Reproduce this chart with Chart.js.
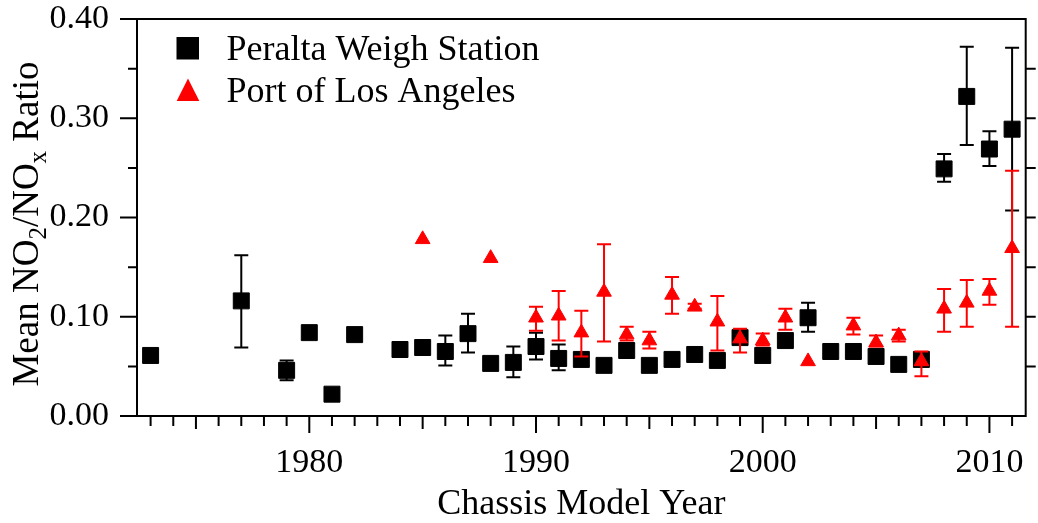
<!DOCTYPE html>
<html>
<head>
<meta charset="utf-8">
<script src="https://cdn.jsdelivr.net/npm/chart.js@4.4.0/dist/chart.umd.min.js"></script>
<style>
  html, body { margin: 0; padding: 0; background: #fff; }
  #wrap { width: 1038px; height: 523px; }
</style>
</head>
<body>
<div id="wrap"><canvas id="chart" width="1038" height="523"></canvas></div>
<script>
'use strict'

const serif = "'Liberation Serif', 'Times New Roman', serif";

// Peralta Weigh Station (black squares)
const peraltaYears = [1973, 1977, 1979, 1980, 1981, 1982, 1984, 1985, 1986, 1987, 1988, 1989, 1990, 1991, 1992, 1993, 1994,
  1995, 1996, 1997, 1998, 1999, 2000, 2001, 2002, 2003, 2004, 2005, 2006, 2007, 2008, 2009, 2010, 2011];
const peraltaMeans = [0.061, 0.116, 0.046, 0.084, 0.022, 0.082, 0.067, 0.069, 0.065, 0.083, 0.053, 0.054, 0.070, 0.058, 0.057, 0.051, 0.066,
  0.051, 0.057, 0.062, 0.056, 0.079, 0.061, 0.076, 0.099, 0.065, 0.065, 0.060, 0.052, 0.057, 0.249, 0.322, 0.269, 0.289];
const peraltaHigh = [null, 0.162, 0.056, null, null, null, null, null, 0.081, 0.103, null, 0.070, 0.084, 0.072, null, null, null,
  null, null, null, null, null, null, null, 0.114, null, null, null, null, null, 0.264, 0.372, 0.287, 0.371];
const peraltaLow = [null, 0.069, 0.036, null, null, null, null, null, 0.051, 0.064, null, 0.039, 0.057, 0.046, null, null, null,
  null, null, null, null, null, null, null, 0.085, null, null, null, null, null, 0.236, 0.273, 0.252, 0.207];

// Port of Los Angeles (red triangles)
const portYears = [1985, 1988, 1990, 1991, 1992, 1993, 1994, 1995, 1996, 1997, 1998, 1999, 2000, 2001, 2002, 2004,
  2005, 2006, 2007, 2008, 2009, 2010, 2011];
const portMeans = [0.178, 0.159, 0.099, 0.101, 0.084, 0.125, 0.082, 0.076, 0.122, 0.110, 0.095, 0.078, 0.076, 0.099, 0.055, 0.091,
  0.074, 0.081, 0.055, 0.108, 0.114, 0.126, 0.169];
const portHigh = [null, null, 0.110, 0.126, 0.106, 0.173, 0.090, 0.085, 0.140, 0.113, 0.121, 0.088, 0.083, 0.108, null, 0.099,
  0.081, 0.087, 0.065, 0.128, 0.137, 0.138, 0.247];
const portLow = [null, null, 0.086, 0.076, 0.060, 0.075, 0.076, 0.068, 0.103, 0.108, 0.066, 0.064, 0.071, 0.087, null, 0.082,
  0.070, 0.075, 0.040, 0.085, 0.090, 0.112, 0.090];

const xTickLabels = [1980, 1990, 2000, 2010];
const yTickLabels = ['0.00', '0.10', '0.20', '0.30', '0.40'];

function toPoints(xs, ys){
  return xs.map((x, i) => ({x: x, y: ys[i]}));
}

// error bars, drawn just before each dataset's markers
const errorBars = {
  id: 'errorBars',
  beforeDatasetDraw(chart, args){
    const ds = chart.data.datasets[args.index];
    if (!ds.errHigh) return;
    const ctx = chart.ctx;
    const xs = chart.scales.x;
    const ys = chart.scales.y;
    ctx.save();
    ctx.strokeStyle = ds.borderColor;
    ctx.lineWidth = 2;
    ds.data.forEach((p, i) => {
      const hi = ds.errHigh[i];
      const lo = ds.errLow[i];
      if (hi == null) return;
      const px = xs.getPixelForValue(p.x);
      const top = ys.getPixelForValue(hi);
      const bot = ys.getPixelForValue(lo);
      ctx.beginPath();
      ctx.moveTo(px, top); ctx.lineTo(px, bot);
      ctx.moveTo(px - 7, top); ctx.lineTo(px + 7, top);
      ctx.moveTo(px - 7, bot); ctx.lineTo(px + 7, bot);
      ctx.stroke();
    });
    ctx.restore();
  }
};

// box, tick marks, legend and the y title with subscripts
const decorations = {
  id: 'decorations',
  afterDraw(chart){
    const ctx = chart.ctx;
    const a = chart.chartArea;
    const xs = chart.scales.x;
    const ys = chart.scales.y;
    ctx.save();
    ctx.strokeStyle = '#000';
    ctx.lineWidth = 2;
    ctx.beginPath();
    ctx.moveTo(a.left, a.top); ctx.lineTo(a.left, a.bottom);
    ctx.moveTo(a.right, a.top); ctx.lineTo(a.right, a.bottom + 1);
    ctx.moveTo(a.left, a.top); ctx.lineTo(a.right + 1, a.top);
    ctx.moveTo(a.left, a.bottom); ctx.lineTo(a.right + 1, a.bottom);

    // y ticks
    const majors = yTickLabels.map(Number);
    majors.forEach((v, i) => {
      const py = ys.getPixelForValue(v);
      ctx.moveTo(a.left - 17, py); ctx.lineTo(a.left, py);
      if (i < majors.length - 1) {
        const mid = ys.getPixelForValue((v + majors[i + 1]) / 2);
        ctx.moveTo(a.left - 9, mid); ctx.lineTo(a.left, mid);
        ctx.moveTo(a.right, mid); ctx.lineTo(a.right + 10, mid);
      }
      if (i > 0 && i < majors.length - 1) {
        ctx.moveTo(a.right, py); ctx.lineTo(a.right + 10, py);
      }
    });

    // x ticks
    for (let yr = Math.ceil(xs.min); yr <= Math.floor(xs.max); yr++) {
      const px = xs.getPixelForValue(yr);
      let len = 10;
      if (yr % 5 === 0) len = 13;
      if (yr % 10 === 0) len = 17;
      ctx.moveTo(px, a.bottom); ctx.lineTo(px, a.bottom + len);
    }
    ctx.stroke();

    // legend
    ctx.fillStyle = '#000';
    ctx.fillRect(176.5, 37, 22.5, 22.5);
    ctx.fillStyle = '#ff0000';
    ctx.beginPath();
    ctx.moveTo(188, 78.5);
    ctx.lineTo(199.3, 101);
    ctx.lineTo(176.7, 101);
    ctx.closePath();
    ctx.fill();
    ctx.fillStyle = '#000';
    ctx.font = '36px ' + serif;
    ctx.textBaseline = 'alphabetic';
    ctx.textAlign = 'left';
    ctx.fillText('Peralta Weigh Station', 226.5, 59.5);
    ctx.fillText('Port of Los Angeles', 226.5, 102);

    // y title
    const parts = [['Mean NO', 37, 0], ['2', 25, 8], ['/NO', 37, 0], ['x', 25, 8], [' Ratio', 37, 0]];
    let total = 0;
    parts.forEach(p => {
      ctx.font = p[1] + 'px ' + serif;
      total += ctx.measureText(p[0]).width;
    });
    ctx.translate(38, 224);
    ctx.rotate(-Math.PI / 2);
    let cx = -total / 2;
    parts.forEach(p => {
      ctx.font = p[1] + 'px ' + serif;
      ctx.fillText(p[0], cx, p[2]);
      cx += ctx.measureText(p[0]).width;
    });
    ctx.restore();
  }
};

const ctx = document.getElementById('chart').getContext('2d');

const myChart = new Chart(ctx, {
  type: 'scatter',
  data: {
    datasets: [{
      label: 'Peralta Weigh Station',
      data: toPoints(peraltaYears, peraltaMeans),
      errHigh: peraltaHigh,
      errLow: peraltaLow,
      pointStyle: 'rect',
      pointRadius: 11.3,
      borderWidth: 1,
      backgroundColor: '#000',
      borderColor: '#000',
      order: 1
    },
    {
      label: 'Port of Los Angeles',
      data: toPoints(portYears, portMeans),
      errHigh: portHigh,
      errLow: portLow,
      pointStyle: 'triangle',
      pointRadius: 8.5,
      borderWidth: 1,
      backgroundColor: '#ff0000',
      borderColor: '#ff0000',
      order: 0
    }]
  },
  options: {
    responsive: false,
    animation: false,
    events: [],
    layout: { padding: { left: 0, top: 19, right: 10, bottom: 0 } },
    plugins: {
      legend: { display: false },
      tooltip: { enabled: false }
    },
    scales: {
      x: {
        type: 'linear',
        min: 1972.4,
        max: 2011.6,
        border: { display: false },
        grid: { display: false, drawTicks: false },
        afterBuildTicks(scale){
          scale.ticks = xTickLabels.map(v => ({value: v}));
        },
        afterFit(scale){
          scale.height = 107;
          scale.paddingLeft = 0;
          scale.paddingRight = 0;
        },
        ticks: {
          color: '#000',
          padding: 30,
          maxRotation: 0,
          font: { family: serif, size: 34, lineHeight: 1 },
          callback: v => String(v)
        },
        title: {
          display: true,
          text: 'Chassis Model Year',
          color: '#000',
          padding: { top: 0, bottom: 0 },
          font: { family: serif, size: 36, lineHeight: 1 }
        }
      },
      y: {
        min: 0,
        max: 0.4,
        border: { display: false },
        grid: { display: false, drawTicks: false },
        afterBuildTicks(scale){
          scale.ticks = yTickLabels.map(v => ({value: Number(v)}));
        },
        afterFit(scale){
          scale.width = 137;
          scale.paddingTop = 0;
          scale.paddingBottom = 0;
        },
        ticks: {
          color: '#000',
          padding: 28,
          font: { family: serif, size: 34, lineHeight: 1 },
          callback: v => v.toFixed(2)
        }
      }
    }
  },
  plugins: [errorBars, decorations]
});
</script>
</body>
</html>
